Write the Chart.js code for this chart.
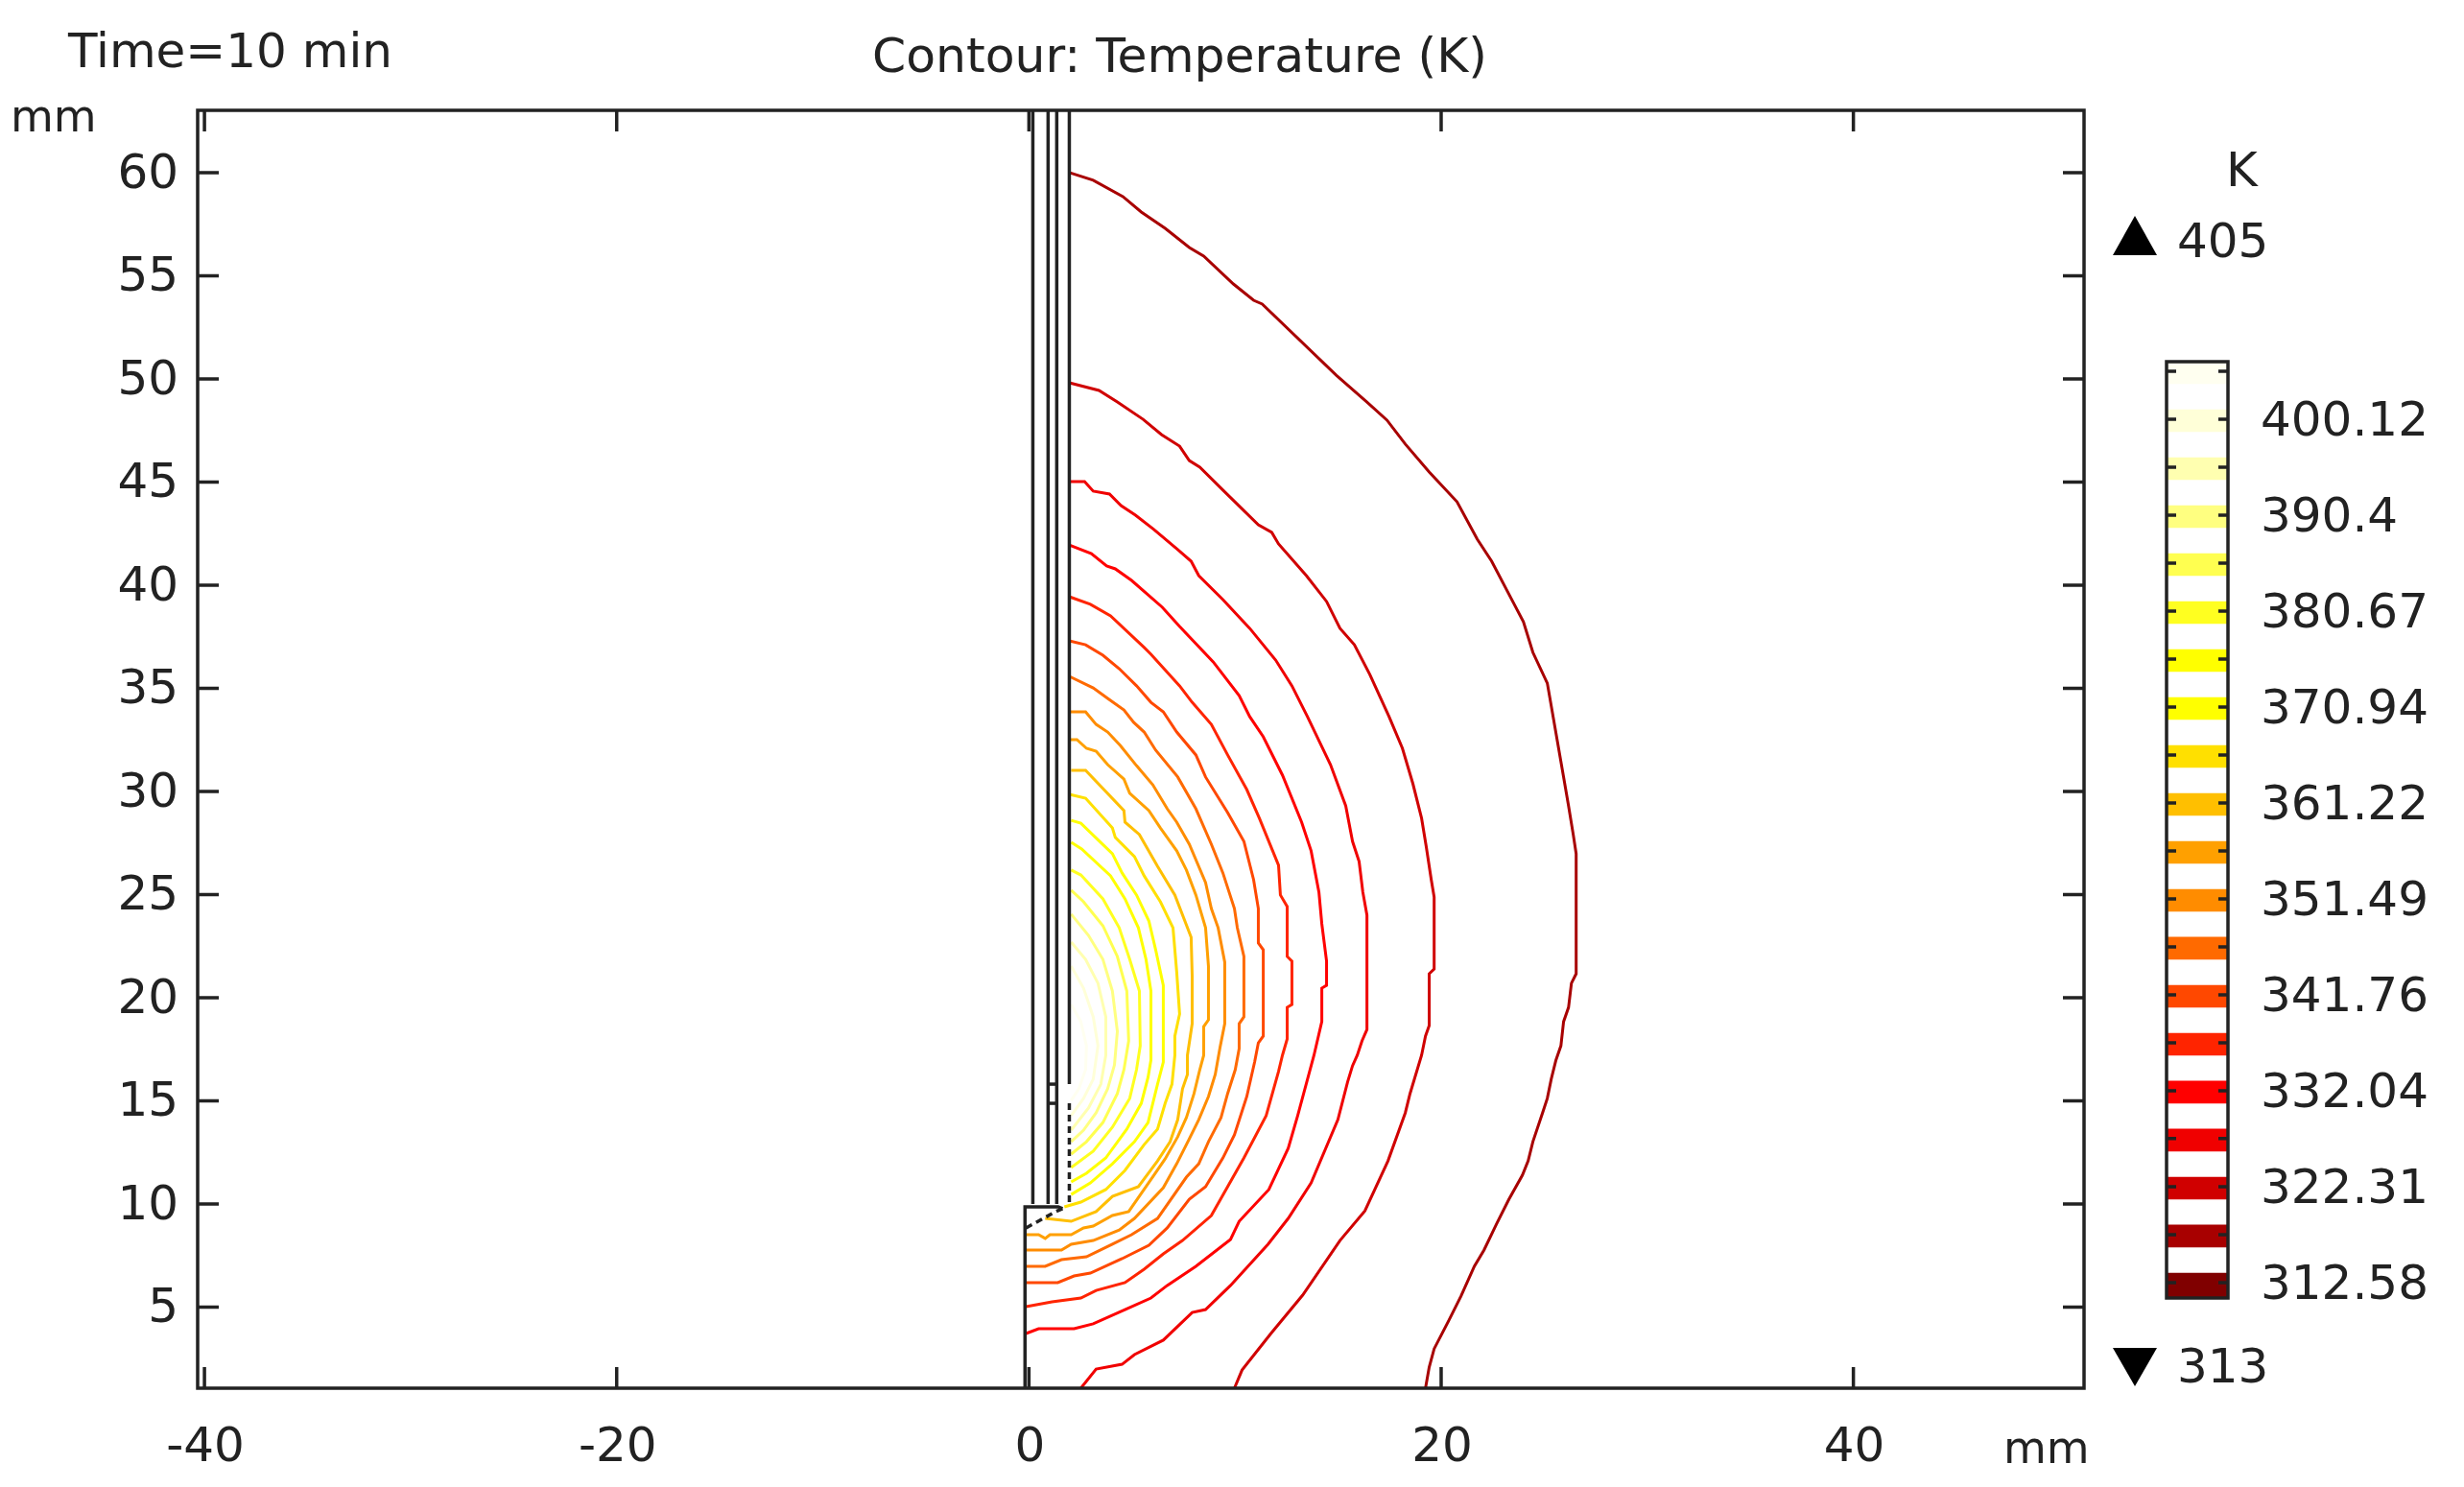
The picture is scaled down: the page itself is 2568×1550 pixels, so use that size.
<!DOCTYPE html>
<html>
<head>
<meta charset="utf-8">
<title>Contour: Temperature (K)</title>
<script src="https://cdn.jsdelivr.net/npm/chart.js@4/dist/chart.umd.min.js"></script>
<style>
  html, body { margin: 0; padding: 0; background: #fff; }
  #page { position: relative; width: 2568px; height: 1550px; overflow: hidden; font-family: "DejaVu Sans", sans-serif; color: #222; filter: blur(0.6px); }
  canvas { position: absolute; top: 0; }
  #plot { left: 0; }
  #bar { left: 2240px; }
  .txt { position: absolute; line-height: 1; white-space: nowrap; font-size: 50px; }
  .tri { position: absolute; left: 2202px; width: 0; height: 0; border-left: 23px solid transparent; border-right: 23px solid transparent; }
</style>
</head>
<body>
<div id="page">
  <canvas id="plot" width="2190" height="1550"></canvas>
  <canvas id="bar" width="328" height="1550"></canvas>
  <div class="txt" style="left:71px;top:28px">Time=10 min</div>
  <div class="txt" style="left:909px;top:33px;font-size:50.4px">Contour: Temperature (K)</div>
  <div class="txt" style="left:11px;top:98px;font-size:46px">mm</div>
  <div class="txt" style="left:2088px;top:1486px;font-size:46px">mm</div>
  <div class="txt" style="left:2320px;top:152px">K</div>
  <div class="txt" style="left:2269px;top:226px">405</div>
  <div class="txt" style="left:2269px;top:1399px">313</div>
  <div class="tri" style="top:225px;border-bottom:41px solid #000"></div>
  <div class="tri" style="top:1405px;border-top:40px solid #000"></div>
</div>
<script>
// axis ticks
const xTicks = [-40, -20, 0, 20, 40];
const yTicks = [5, 10, 15, 20, 25, 30, 35, 40, 45, 50, 55, 60];

// contour levels (K), bottom to top of the colour bar
const levels = [312.58, 317.45, 322.31, 327.18, 332.04, 336.90, 341.76, 346.63, 351.49, 356.35,
                361.22, 366.08, 370.94, 375.80, 380.67, 385.53, 390.40, 395.26, 400.12, 404.98];
const levelColors = ['#800000', '#a80000', '#d00000', '#f00000', '#ff0000', '#ff2400', '#ff4800', '#ff6a00', '#ff8c00', '#ffa000',
                     '#ffbf00', '#ffe000', '#ffff00', '#ffff00', '#ffff20', '#ffff50', '#ffff80', '#ffffb0', '#ffffd8', '#fffff0'];
const barLabels = ['312.58', '322.31', '332.04', '341.76', '351.49', '361.22', '370.94', '380.67', '390.4', '400.12'];

// contour lines [r mm, z mm]
const c317 = [[1.96,60.0],[3.12,59.63],[4.56,58.84],[5.45,58.09],[6.61,57.3],[7.78,56.37],[8.48,55.95],[9.92,54.6],[10.9,53.81],[11.32,53.63],[14.91,50.18],[16.4,48.88],[17.37,48.0],[18.26,46.84],[19.42,45.49],[20.77,44.04],[21.75,42.23],[22.45,41.16],[23.38,39.39],[23.99,38.23],[24.45,36.74],[25.15,35.25],[25.94,30.7],[26.18,29.3],[26.41,27.9],[26.55,26.98],[26.55,21.16],[26.32,20.7],[26.18,19.53],[25.94,18.84],[25.81,17.67],[25.57,16.98],[25.34,16.05],[25.15,15.12],[24.92,14.42],[24.45,13.02],[24.22,12.09],[23.94,11.39],[23.29,10.23],[22.68,9.02],[22.08,7.77],[21.61,6.98],[20.96,5.53],[20.36,4.33],[19.66,2.98],[19.42,2.09],[19.24,1.07]];
const c322 = [[1.96,49.81],[3.4,49.44],[4.29,48.88],[5.54,48.04],[6.43,47.3],[7.31,46.74],[7.78,46.04],[8.29,45.72],[9.46,44.56],[11.13,42.93],[11.78,42.56],[12.11,42.0],[13.46,40.46],[14.44,39.21],[15.09,37.91],[15.79,37.11],[16.54,35.67],[17.47,33.63],[18.12,32.09],[18.63,30.37],[19.05,28.7],[19.28,27.3],[19.52,25.72],[19.66,24.88],[19.66,21.39],[19.42,21.16],[19.42,18.65],[19.24,18.14],[19.05,17.21],[18.49,15.35],[18.26,14.42],[17.42,12.09],[16.3,9.67],[15.09,8.23],[13.28,5.58],[11.74,3.72],[10.34,1.95],[9.97,1.07]];
const c327 = [[1.96,45.02],[2.7,45.02],[3.12,44.56],[3.91,44.42],[4.47,43.86],[5.17,43.39],[6.06,42.7],[7.22,41.72],[7.87,41.16],[8.24,40.46],[9.41,39.3],[10.71,37.91],[11.97,36.37],[12.76,35.12],[13.51,33.63],[14.63,31.3],[15.37,29.3],[15.7,27.58],[16.02,26.6],[16.2,25.12],[16.4,24.0],[16.4,18.46],[16.16,17.91],[15.93,17.21],[15.7,16.7],[15.46,15.91],[14.99,14.09],[13.69,11.02],[12.58,9.3],[11.6,8.05],[9.78,6.05],[8.57,4.88],[7.92,4.74],[6.52,3.4],[5.12,2.7],[4.52,2.23],[3.26,2.0],[2.52,1.07]];
const c332 = [[1.96,41.95],[3.03,41.53],[3.77,40.93],[4.19,40.79],[4.98,40.23],[6.47,38.93],[7.31,38.0],[8.94,36.28],[10.2,34.65],[10.71,33.63],[11.37,32.65],[12.3,30.79],[13.23,28.51],[13.69,27.12],[14.07,25.12],[14.21,23.58],[14.44,21.77],[14.44,20.6],[14.21,20.46],[14.21,18.84],[13.83,17.21],[13.04,14.28],[12.58,12.7],[11.64,10.7],[10.2,9.16],[9.78,8.28],[8.1,6.98],[6.71,6.05],[5.92,5.44],[4.66,4.88],[3.12,4.19],[2.19,3.95],[0.47,3.95],[-0.14,3.72]];
const c337 = [[1.96,39.44],[2.98,39.07],[3.96,38.51],[5.59,36.98],[5.92,36.65],[7.31,35.12],[7.92,34.32],[8.85,33.25],[9.64,31.77],[10.57,30.09],[11.18,28.7],[12.11,26.42],[12.2,24.98],[12.53,24.42],[12.53,22.0],[12.76,21.77],[12.76,19.67],[12.53,19.53],[12.53,18.0],[12.3,17.21],[12.11,16.42],[11.51,14.28],[10.43,12.23],[8.85,9.44],[7.45,8.23],[6.52,7.58],[5.59,6.84],[4.66,6.19],[3.26,5.81],[2.52,5.44],[1.12,5.26],[-0.14,5.02]];
const c342 = [[1.96,37.3],[2.75,37.11],[3.59,36.6],[4.38,35.95],[5.22,35.12],[5.92,34.32],[6.52,33.86],[7.17,32.88],[8.1,31.77],[8.57,30.7],[9.64,28.98],[10.43,27.58],[10.9,25.72],[11.13,24.32],[11.13,22.65],[11.37,22.32],[11.37,18.14],[11.13,17.81],[10.95,16.88],[10.57,15.21],[9.97,13.35],[9.41,12.23],[8.57,10.84],[7.78,10.23],[6.71,8.84],[5.82,8.0],[4.52,7.35],[2.98,6.65],[2.19,6.51],[1.4,6.19],[-0.14,6.19]];
const c346 = [[1.96,35.58],[3.12,35.02],[3.82,34.51],[4.61,33.95],[5.08,33.35],[5.59,32.88],[6.15,32.0],[7.22,30.7],[8.1,29.16],[8.85,27.44],[9.41,26.05],[9.97,24.32],[10.11,23.39],[10.43,22.0],[10.43,19.07],[10.2,18.74],[10.2,17.53],[10.01,16.51],[9.64,15.35],[9.32,14.19],[8.71,13.02],[8.24,11.95],[7.64,11.3],[6.24,9.3],[4.98,8.51],[4.05,8.05],[2.79,7.44],[1.58,7.3],[0.79,6.98],[-0.14,6.98]];
const c351 = [[1.96,33.86],[2.75,33.86],[3.26,33.25],[3.82,32.88],[4.43,32.23],[5.22,31.25],[6.01,30.32],[6.71,29.16],[7.17,28.51],[7.78,27.44],[8.57,25.58],[8.85,24.32],[9.18,23.39],[9.5,21.72],[9.5,18.74],[9.27,17.58],[9.04,16.28],[8.71,15.21],[8.24,14.09],[7.78,13.16],[7.17,11.95],[6.52,10.79],[5.12,9.3],[4.38,8.74],[3.12,8.23],[2.05,8.05],[1.58,7.77],[-0.14,7.77]];
const c356 = [[1.96,32.51],[2.33,32.51],[2.79,32.09],[3.26,31.95],[3.82,31.3],[4.61,30.6],[4.89,29.91],[5.82,29.07],[6.38,28.23],[7.17,27.12],[7.64,26.19],[8.1,24.98],[8.57,23.39],[8.71,21.53],[8.71,18.93],[8.48,18.6],[8.48,17.21],[8.29,16.51],[8.01,15.35],[7.64,14.19],[7.22,13.26],[6.61,12.19],[6.06,11.39],[4.84,9.63],[4.05,9.44],[3.12,8.93],[2.65,8.84],[2.05,8.51],[1.02,8.51],[0.79,8.33],[0.47,8.51],[-0.14,8.51]];
const c361 = [[2.05,31.02],[2.75,31.02],[4.61,29.07],[4.66,28.51],[5.36,27.91],[6.24,26.37],[7.08,24.98],[7.87,22.93],[7.92,21.07],[7.92,18.74],[7.69,17.21],[7.69,16.28],[7.45,15.58],[7.22,14.09],[6.85,13.02],[6.24,12.09],[5.31,10.84],[4.05,10.37],[3.26,9.63],[2.05,9.16],[0.79,9.3]];
const c366 = [[1.96,29.86],[2.75,29.67],[4.05,28.23],[4.19,27.77],[5.12,26.84],[5.59,25.91],[6.38,24.65],[6.99,23.39],[7.17,21.25],[7.31,19.21],[7.08,18.14],[7.08,17.21],[6.94,15.81],[6.61,14.88],[6.24,13.63],[5.59,12.88],[4.66,11.63],[3.73,10.7],[2.52,10.09],[1.72,9.86]];
const c371 = [[2.05,28.6],[2.52,28.46],[4.05,26.98],[4.52,26.05],[5.22,24.98],[5.82,23.72],[6.15,22.32],[6.52,20.6],[6.52,16.88],[6.24,15.81],[5.78,13.95],[5.12,13.02],[4.05,11.95],[2.98,11.02],[2.05,10.46]];
const c376 = [[2.05,27.53],[2.56,27.21],[3.96,25.91],[4.66,24.79],[5.31,23.39],[5.68,21.86],[5.92,20.32],[5.92,16.98],[5.78,16.14],[5.45,14.88],[4.75,13.63],[3.73,12.23],[2.79,11.49],[2.05,11.07]];
const c380 = [[2.05,26.19],[2.52,25.95],[3.59,24.79],[4.38,23.39],[4.89,21.86],[5.36,20.32],[5.4,17.67],[5.22,16.51],[4.89,15.12],[4.05,13.72],[3.12,12.56],[2.05,11.77]];
const c385 = [[2.05,25.21],[2.65,24.65],[3.59,23.49],[4.29,22.0],[4.75,20.32],[4.84,17.91],[4.61,16.51],[4.29,15.35],[3.59,13.95],[2.79,13.02],[2.05,12.42]];
const c390 = [[2.05,24.05],[2.89,23.02],[3.59,21.86],[4.05,20.32],[4.29,18.37],[4.15,16.74],[3.82,15.58],[3.26,14.42],[2.65,13.58],[2.05,13.02]];
const c395 = [[2.05,22.7],[2.75,21.86],[3.35,20.7],[3.73,19.07],[3.73,17.21],[3.49,15.81],[2.89,14.65],[2.05,13.58]];
const c400 = [[2.05,21.53],[2.65,20.46],[3.12,19.07],[3.35,17.67],[3.12,16.05],[2.65,15.12],[2.05,14.28]];
const c405 = [[2.05,19.67],[2.52,18.84],[2.79,17.67],[2.75,16.51],[2.42,15.58],[2.05,15.02]];
const contours = [c317, c322, c327, c332, c337, c342, c346, c351, c356, c361, c366, c371, c376, c380, c385, c390, c395, c400, c405];

// heater geometry outline
const geoSolid = [
  [[0.19,63.02],[0.19,10.0]],
  [[0.93,63.02],[0.93,10.0]],
  [[1.35,63.02],[1.35,10.0]],
  [[1.96,63.02],[1.96,15.81]],
  [[0.93,15.81],[1.35,15.81]],
  [[0.93,14.88],[1.35,14.88]],
  [[-0.19,1.07],[-0.19,9.86],[1.42,9.86],[1.63,9.77]]
];
const geoDashed = [
  [[1.96,14.88],[1.96,9.9]],
  [[-0.14,8.84],[1.3,9.63],[1.63,9.77]]
];

// box plus inward ticks, the way the reference draws its axes
const frame = {
  id: 'frame',
  afterDatasetsDraw(chart, args, opts) {
    const { ctx, chartArea: a, scales } = chart;
    ctx.save();
    ctx.strokeStyle = '#222';
    ctx.lineWidth = 3.5;
    ctx.beginPath();
    scales.y.ticks.forEach(t => {
      const p = scales.y.getPixelForValue(t.value);
      ctx.moveTo(a.left, p); ctx.lineTo(a.left + opts.len, p);
      ctx.moveTo(a.right, p); ctx.lineTo(a.right - opts.len, p);
    });
    if (opts.xTicks) {
      scales.x.ticks.forEach(t => {
        const p = scales.x.getPixelForValue(t.value);
        ctx.moveTo(p, a.top); ctx.lineTo(p, a.top + opts.len);
        ctx.moveTo(p, a.bottom); ctx.lineTo(p, a.bottom - opts.len);
      });
    }
    ctx.stroke();
    ctx.strokeRect(a.left, a.top, a.right - a.left, a.bottom - a.top);
    ctx.restore();
  }
};

const tickFont = { family: "'DejaVu Sans'", size: 50 };

const lineSets = [];
geoSolid.forEach(g => lineSets.push({ data: g, borderColor: '#222', borderWidth: 3.5, showLine: true, pointRadius: 0 }));
geoDashed.forEach(g => lineSets.push({ data: g, borderColor: '#222', borderWidth: 3.5, borderDash: [7, 5], showLine: true, pointRadius: 0 }));
contours.forEach((c, i) => lineSets.push({ data: c, borderColor: levelColors[i + 1], borderWidth: 3, showLine: true, pointRadius: 0 }));

new Chart(document.getElementById('plot'), {
  type: 'scatter',
  data: { datasets: lineSets },
  plugins: [frame],
  options: {
    responsive: false,
    devicePixelRatio: 1,
    animation: false,
    layout: { autoPadding: false, padding: { top: 115, right: 18, left: 0, bottom: 0 } },
    plugins: { legend: { display: false }, tooltip: { enabled: false }, frame: { len: 22, xTicks: true } },
    scales: {
      x: {
        type: 'linear', min: -40.33, max: 51.19,
        grid: { display: false }, border: { display: false },
        afterBuildTicks: s => { s.ticks = xTicks.map(v => ({ value: v })); },
        afterFit: s => { s.height = 103; },
        ticks: { font: tickFont, color: '#222', padding: 25, labelOffset: 1, maxRotation: 0, autoSkip: false, callback: v => String(v) }
      },
      y: {
        type: 'linear', min: 1.07, max: 63.02,
        grid: { display: false }, border: { display: false },
        afterBuildTicks: s => { s.ticks = yTicks.map(v => ({ value: v })); },
        afterFit: s => { s.width = 206; },
        ticks: { font: tickFont, color: '#222', padding: 12, labelOffset: 3, autoSkip: false, callback: v => String(v) }
      }
    }
  }
});

// colour bar, one floating bar per level
const barSets = levels.map((l, i) => ({
  data: [[i === 0 ? 311.02 : l - 1.26, l + 0.97]],
  backgroundColor: levelColors[i],
  grouped: false,
  barPercentage: 1,
  categoryPercentage: 1
}));

new Chart(document.getElementById('bar'), {
  type: 'bar',
  data: { labels: ['K'], datasets: barSets },
  plugins: [frame],
  options: {
    responsive: false,
    devicePixelRatio: 1,
    animation: false,
    layout: { autoPadding: false, padding: { top: 377, left: 18, right: 0, bottom: 197 } },
    plugins: { legend: { display: false }, tooltip: { enabled: false }, frame: { len: 10, xTicks: false } },
    scales: {
      x: { display: false },
      y: {
        type: 'linear', position: 'right', min: 311.02, max: 405.96,
        grid: { display: false }, border: { display: false },
        afterBuildTicks: s => { s.ticks = levels.map(v => ({ value: v })); },
        afterFit: s => { s.width = 246; },
        ticks: {
          font: tickFont, color: '#222', padding: 26, labelOffset: 4, autoSkip: false,
          callback: v => barLabels.find(b => Math.abs(parseFloat(b) - v) < 0.01) || ''
        }
      }
    }
  }
});
</script>
</body>
</html>
